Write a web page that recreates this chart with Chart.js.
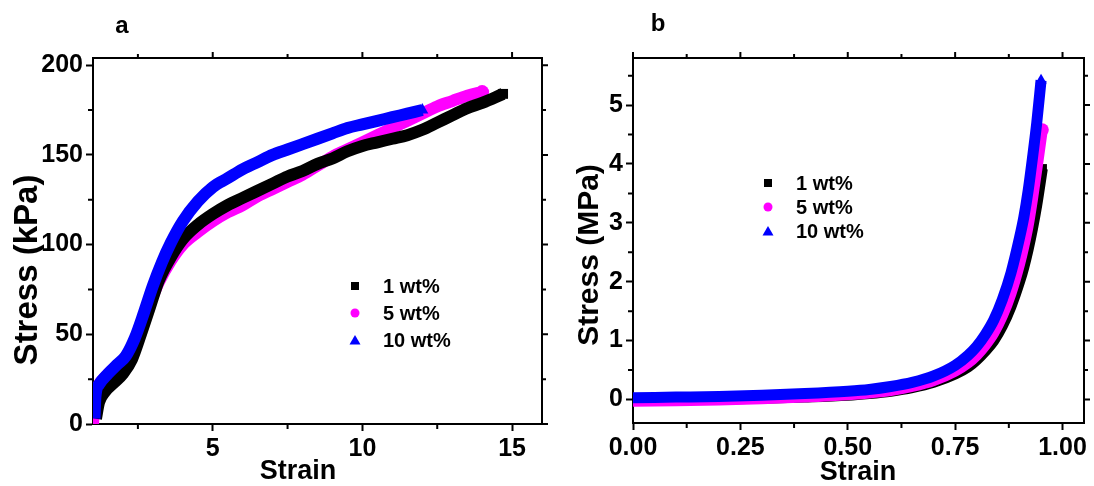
<!DOCTYPE html>
<html lang="en">
<head>
<meta charset="UTF-8">
<title>Stress-strain curves</title>
<script src="https://cdn.jsdelivr.net/npm/chart.js"></script>
<style>
  body { margin: 0; background: #fff; }
  .panel { position: absolute; top: 0; }
</style>
</head>
<body>
<canvas id="chartA" class="panel" width="560" height="486" style="left:0"></canvas>
<canvas id="chartB" class="panel" width="534" height="486" style="left:560px"></canvas>
<script>
// series shared by both panels
const seriesLabels = ['1 wt%', '5 wt%', '10 wt%'];
const seriesColors = ['#000000', '#ff00ff', '#0000ff'];
const seriesMarkers = ['rect', 'circle', 'triangle'];

// panel a: stress (kPa) vs strain
const aStrain1 = [1.1, 1.2, 1.4, 1.7, 2.0, 2.3, 2.6, 2.9, 3.2, 3.6, 4.0, 4.5, 5.0, 5.5, 6, 6.5, 7, 7.5, 8, 8.5, 9, 9.5, 10, 10.5, 11, 11.5, 12, 12.5, 13, 13.5, 14, 14.7];
const aStress1 = [3, 12, 18, 23, 28, 36, 50, 65, 80, 93, 103, 111, 117, 122, 126, 130, 134, 138, 141, 145, 148, 152, 155, 157, 159, 161, 164, 168, 172, 176, 179, 184];
const aStrain5 = [1.0, 1.05, 1.15, 1.4, 1.7, 2.0, 2.3, 2.6, 2.9, 3.2, 3.6, 4.0, 4.5, 5.0, 5.5, 6, 6.5, 7, 7.5, 8, 8.5, 9, 9.5, 10, 10.5, 11, 11.5, 12, 12.5, 13, 13.5, 14];
const aStress5 = [0, 12, 20, 26, 31, 35, 42, 54, 67, 79, 91, 100, 107, 113, 118, 122, 127, 131, 135, 139, 144, 149, 153, 157, 161, 165, 169, 173, 177, 180, 183, 185];
const aStrain10 = [1.05, 1.08, 1.2, 1.5, 1.8, 2.1, 2.4, 2.7, 3.0, 3.3, 3.6, 4.0, 4.5, 5.0, 5.5, 6, 6.5, 7, 7.5, 8, 8.5, 9, 9.5, 10, 10.5, 11, 11.5, 12];
const aStress10 = [3, 15, 22, 28, 33, 38, 48, 62, 77, 90, 101, 113, 124, 132, 137, 142, 146, 150, 153, 156, 159, 162, 165, 167, 169, 171, 173, 175];
const aTicksX = [5, 10, 15];
const aMinorX = [2.5, 7.5, 12.5];
const aTicksY = [0, 50, 100, 150, 200];
const aMinorY = [25, 75, 125, 175];

// panel b: stress (MPa) vs strain
const bStrain1 = [0, 0.1, 0.2, 0.3, 0.4, 0.5, 0.55, 0.6, 0.65, 0.7, 0.75, 0.78, 0.8, 0.82, 0.84, 0.86, 0.88, 0.9, 0.91, 0.92, 0.93, 0.94, 0.953];
const bStress1 = [-0.01, 0, 0.01, 0.02, 0.04, 0.07, 0.1, 0.14, 0.2, 0.29, 0.43, 0.55, 0.67, 0.82, 1.0, 1.25, 1.58, 2.0, 2.25, 2.55, 2.9, 3.3, 3.92];
const bStrain5 = [0, 0.1, 0.2, 0.3, 0.4, 0.5, 0.55, 0.6, 0.65, 0.7, 0.75, 0.78, 0.8, 0.82, 0.84, 0.86, 0.88, 0.9, 0.91, 0.92, 0.93, 0.94, 0.953];
const bStress5 = [-0.03, -0.02, -0.01, 0.01, 0.04, 0.08, 0.11, 0.15, 0.22, 0.32, 0.48, 0.62, 0.75, 0.92, 1.13, 1.42, 1.8, 2.3, 2.6, 2.95, 3.4, 3.9, 4.58];
const bStrain10 = [0, 0.1, 0.2, 0.3, 0.4, 0.5, 0.55, 0.6, 0.65, 0.7, 0.75, 0.78, 0.8, 0.82, 0.84, 0.86, 0.88, 0.9, 0.91, 0.92, 0.93, 0.94, 0.95];
const bStress10 = [0.03, 0.04, 0.05, 0.07, 0.1, 0.14, 0.17, 0.22, 0.29, 0.4, 0.58, 0.75, 0.9, 1.1, 1.35, 1.7, 2.15, 2.75, 3.1, 3.55, 4.1, 4.7, 5.42];
const bTicksX = [0, 0.25, 0.5, 0.75, 1.0];
const bMinorX = [0.125, 0.375, 0.625, 0.875];
const bTicksY = [0, 1, 2, 3, 4, 5];
const bMinorY = [0.5, 1.5, 2.5, 3.5, 4.5, 5.5];

const FONT = 'Liberation Sans, Arial, sans-serif';
const tickFont = {family: FONT, weight: 'bold', size: 25};

const pts = (xs, ys) => xs.map((v, i) => ({x: v, y: ys[i]}));

function lineSet(i, xs, ys, order, width) {
    const last = xs.length - 1;
    return {
        label: seriesLabels[i],
        data: pts(xs, ys),
        borderColor: seriesColors[i],
        backgroundColor: seriesColors[i],
        borderWidth: width,
        // only the end point gets its marker, like the stacked symbols' tip
        pointStyle: seriesMarkers[i],
        pointRadius: c => c.dataIndex === last ? width / 2 + 1 : 0,
        pointBorderWidth: 0,
        cubicInterpolationMode: 'monotone',
        borderCapStyle: 'butt',
        borderJoinStyle: 'round',
        fill: false,
        order: order
    };
}

// top/right box edges plus the minor and mirrored tick marks
const frameTicks = {
    id: 'frameTicks',
    afterDraw(chart, args, o) {
        const {ctx, chartArea: a, scales: {x, y}} = chart;
        ctx.save();
        ctx.strokeStyle = '#000';
        ctx.lineWidth = 2;
        ctx.beginPath();
        ctx.moveTo(a.left - 1, a.top);
        ctx.lineTo(a.right, a.top);
        ctx.lineTo(a.right, a.bottom + 1);
        ctx.stroke();
        ctx.beginPath();
        o.majorX.forEach(v => {
            const px = x.getPixelForValue(v);
            ctx.moveTo(px, a.top); ctx.lineTo(px, a.top - 6);
        });
        o.minorX.forEach(v => {
            const px = x.getPixelForValue(v);
            ctx.moveTo(px, a.top); ctx.lineTo(px, a.top - 4);
            ctx.moveTo(px, a.bottom); ctx.lineTo(px, a.bottom + 5);
        });
        o.majorY.forEach(v => {
            const py = y.getPixelForValue(v);
            ctx.moveTo(a.right, py); ctx.lineTo(a.right + 6, py);
        });
        o.minorY.forEach(v => {
            const py = y.getPixelForValue(v);
            ctx.moveTo(a.right, py); ctx.lineTo(a.right + 4, py);
            ctx.moveTo(a.left, py); ctx.lineTo(a.left - 5, py);
        });
        ctx.stroke();
        ctx.restore();
    }
};

// panel letter and axis titles
const panelText = {
    id: 'panelText',
    afterDraw(chart, args, o) {
        const ctx = chart.ctx;
        ctx.save();
        ctx.fillStyle = '#000';
        ctx.textAlign = 'center';
        ctx.textBaseline = 'middle';
        o.items.forEach(t => {
            ctx.font = 'bold ' + t.size + 'px ' + FONT;
            ctx.save();
            ctx.translate(t.x, t.y);
            if (t.rotate) ctx.rotate(-Math.PI / 2);
            ctx.fillText(t.text, 0, 0);
            ctx.restore();
        });
        ctx.restore();
    }
};

// marker legend inside the plot
const markerLegend = {
    id: 'markerLegend',
    afterDraw(chart, args, o) {
        const ctx = chart.ctx;
        ctx.save();
        ctx.font = 'bold 20px ' + FONT;
        ctx.textBaseline = 'middle';
        ctx.textAlign = 'left';
        chart.data.datasets.forEach((ds, i) => {
            const cx = o.x, cy = o.y + i * o.gap;
            ctx.fillStyle = ds.borderColor;
            ctx.beginPath();
            if (seriesMarkers[i] === 'rect') {
                ctx.rect(cx - 4, cy - 4, 8, 8);
            } else if (seriesMarkers[i] === 'circle') {
                ctx.arc(cx, cy, 4.5, 0, Math.PI * 2);
            } else {
                ctx.moveTo(cx, cy - 5); ctx.lineTo(cx + 5.5, cy + 4.5); ctx.lineTo(cx - 5.5, cy + 4.5);
                ctx.closePath();
            }
            ctx.fill();
            ctx.fillStyle = '#000';
            ctx.fillText(ds.label, o.x + 28, cy + 1);
        });
        ctx.restore();
    }
};

function axis(min, max, ticks, fit, fmt) {
    return {
        type: 'linear', min: min, max: max,
        afterBuildTicks: s => { s.ticks = ticks.map(v => ({value: v})); },
        afterFit: fit,
        border: {color: '#000', width: 2},
        grid: {drawOnChartArea: false, color: '#000', tickLength: 7, tickWidth: 2},
        ticks: {color: '#000', font: tickFont, padding: 3, maxRotation: 0, autoSkip: false,
                callback: fmt || (v => v)}
    };
}

new Chart(document.getElementById('chartA'), {
    type: 'line',
    data: {
        datasets: [
            lineSet(0, aStrain1, aStress1, 1, 12),
            lineSet(1, aStrain5, aStress5, 2, 12),
            lineSet(2, aStrain10, aStress10, 0, 12)
        ]
    },
    options: {
        responsive: false,
        animation: false,
        devicePixelRatio: 1,
        layout: {padding: {top: 58, right: 18, left: 0, bottom: 0}},
        scales: {
            x: axis(1, 16, aTicksX, s => { s.height = 62; }),
            y: axis(0, 204, aTicksY, s => { s.width = 93; })
        },
        plugins: {
            legend: {display: false},
            tooltip: {enabled: false},
            frameTicks: {majorX: aTicksX, minorX: aMinorX, majorY: aTicksY, minorY: aMinorY},
            markerLegend: {x: 355, y: 286, gap: 27},
            panelText: {items: [
                {text: 'a', x: 122, y: 26, size: 24},
                {text: 'Strain', x: 298, y: 472, size: 27},
                {text: 'Stress (kPa)', x: 28, y: 270, size: 33, rotate: true}
            ]}
        }
    },
    plugins: [frameTicks, panelText, markerLegend]
});

new Chart(document.getElementById('chartB'), {
    type: 'line',
    data: {
        datasets: [
            lineSet(0, bStrain1, bStress1, 2, 11),
            lineSet(1, bStrain5, bStress5, 1, 11),
            lineSet(2, bStrain10, bStress10, 0, 11)
        ]
    },
    options: {
        responsive: false,
        animation: false,
        devicePixelRatio: 1,
        layout: {padding: {top: 58, right: 10, left: 0, bottom: 0}},
        scales: {
            x: axis(0, 1.05, bTicksX, s => { s.height = 63; }, v => v.toFixed(2)),
            y: axis(-0.4, 5.8, bTicksY, s => { s.width = 73; })
        },
        plugins: {
            legend: {display: false},
            tooltip: {enabled: false},
            frameTicks: {majorX: bTicksX, minorX: bMinorX, majorY: bTicksY, minorY: bMinorY},
            markerLegend: {x: 208, y: 183, gap: 24},
            panelText: {items: [
                {text: 'b', x: 98, y: 24, size: 24},
                {text: 'Strain', x: 298, y: 473, size: 27},
                {text: 'Stress (MPa)', x: 30, y: 255, size: 30, rotate: true}
            ]}
        }
    },
    plugins: [frameTicks, panelText, markerLegend]
});
</script>
</body>
</html>
